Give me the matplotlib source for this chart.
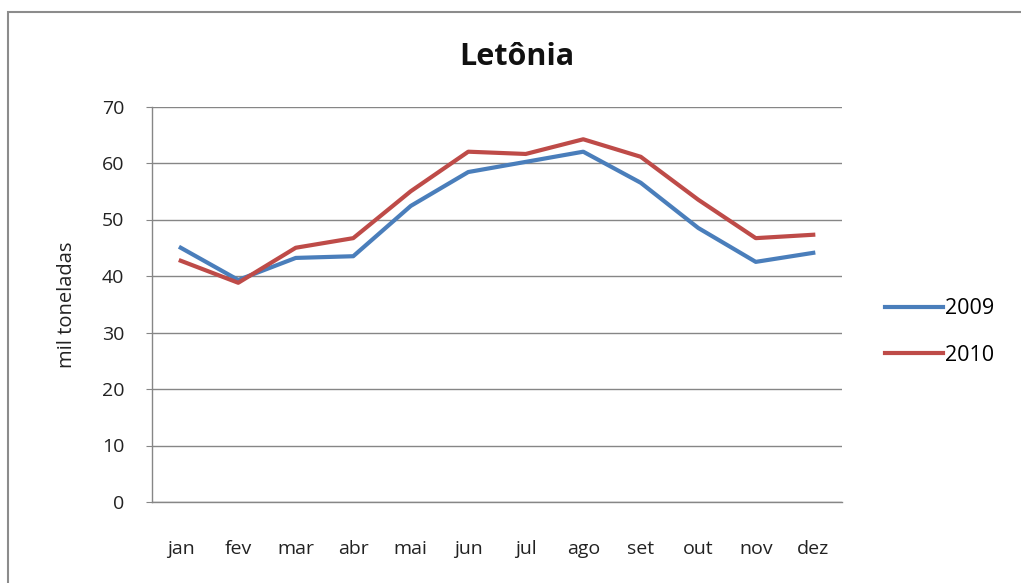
import matplotlib
matplotlib.use("Agg")
import matplotlib.pyplot as plt
from matplotlib.patches import Rectangle

months = ["jan", "fev", "mar", "abr", "mai", "jun", "jul", "ago", "set", "out", "nov", "dez"]
y2009 = [45.0, 39.3, 43.2, 43.5, 52.4, 58.4, 60.2, 62.0, 56.5, 48.5, 42.5, 44.1]
y2010 = [42.7, 38.8, 45.0, 46.7, 55.0, 62.0, 61.6, 64.2, 61.1, 53.5, 46.7, 47.3]
series_labels = ["2009", "2010"]
yticks = [0, 10, 20, 30, 40, 50, 60, 70]

plt.rcParams['font.family'] = ['Open Sans', 'DejaVu Sans']

fig = plt.figure(figsize=(10.21, 5.83), dpi=100)
W, H = 1021, 583
ax = fig.add_axes([152 / W, (H - 502) / H, (842 - 152) / W, (502 - 106.5) / H])

x = list(range(len(months)))
ax.plot(x, y2009, color="#4A7EBB", lw=3.0, label=series_labels[0], solid_joinstyle="round")
ax.plot(x, y2010, color="#BE4B48", lw=3.0, label=series_labels[1], solid_joinstyle="round")

ax.set_xlim(-0.5, len(months) - 0.5)
ax.set_ylim(0, 70)
ax.set_yticks(yticks)
ax.set_xticks(x)
ax.set_xticklabels(months, fontsize=14, color="#222222")
ax.tick_params(axis="x", length=0, pad=27)
ax.tick_params(axis="y", length=4, color="#868686", labelsize=14, labelcolor="#222222", pad=16)
ax.yaxis.grid(True, color="#868686", lw=1.0)
ax.set_axisbelow(True)
for side in ["left", "bottom"]:
    ax.spines[side].set_color("#868686")
    ax.spines[side].set_linewidth(1.0)
for side in ["top", "right"]:
    ax.spines[side].set_visible(False)

ax.set_ylabel("mil toneladas", fontsize=14.5, color="#222222", labelpad=18)

fig.text(517 / W, 1 - 57 / H, "Letônia", ha="center", va="center",
         fontsize=22, fontweight="bold", color="#111111")

leg = ax.legend(loc="center left", bbox_to_anchor=(885 / W, 1 - 332 / H),
                bbox_transform=fig.transFigure, frameon=False, fontsize=15.5,
                handlelength=2.7, handletextpad=0.1, labelspacing=1.2, borderpad=0,
                borderaxespad=0)

# outer chart border (left and top edges visible)
fig.patches.append(Rectangle((8 / W, -0.05), 1.2, 1 - 12 / H + 0.05,
                             transform=fig.transFigure, fill=False,
                             edgecolor="#8c8c8c", lw=1.5, zorder=0))

fig.savefig("out.png", dpi=100, facecolor="white")
